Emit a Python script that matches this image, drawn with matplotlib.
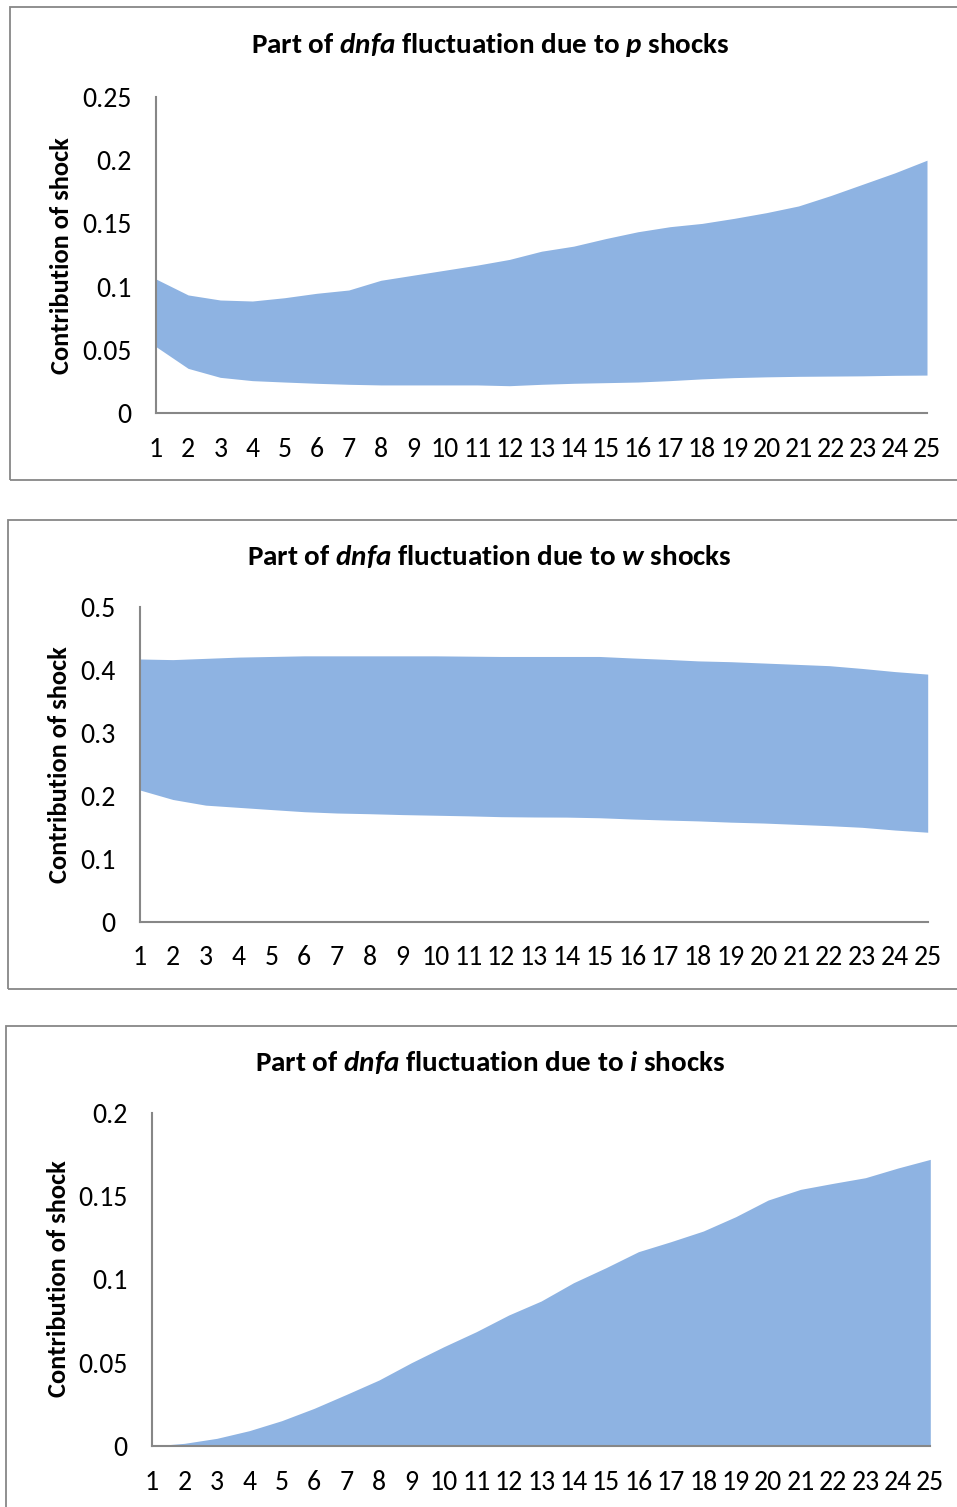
import numpy as np
import matplotlib
matplotlib.use('Agg')
import matplotlib.pyplot as plt
from matplotlib.patches import Rectangle

plt.rcParams['font.family'] = ['Carlito', 'DejaVu Sans']
plt.rcParams['mathtext.fontset'] = 'custom'
plt.rcParams['mathtext.it'] = 'Carlito:italic:bold'
plt.rcParams['mathtext.rm'] = 'Carlito:bold'

# horizon 1..25
periods = list(range(1, 26))

# p shocks: lower / upper bound of the band
p_lower = [0.0525, 0.0353, 0.0282, 0.0256, 0.0245, 0.0235, 0.0227, 0.0222, 0.0222, 0.0222,
           0.0222, 0.0216, 0.0227, 0.0235, 0.0240, 0.0245, 0.0256, 0.0270, 0.0280, 0.0286,
           0.0290, 0.0292, 0.0294, 0.0298, 0.0300]
p_upper = [0.1060, 0.0934, 0.0894, 0.0886, 0.0912, 0.0947, 0.0973, 0.1050, 0.1090, 0.1130,
           0.1170, 0.1215, 0.1280, 0.1320, 0.1380, 0.1434, 0.1474, 0.1500, 0.1540, 0.1585,
           0.1638, 0.1720, 0.1810, 0.1900, 0.2000]

# w shocks
w_lower = [0.209, 0.194, 0.185, 0.1815, 0.178, 0.1746, 0.1725, 0.1714, 0.170, 0.169,
           0.168, 0.1667, 0.1662, 0.166, 0.165, 0.163, 0.1614, 0.160, 0.158, 0.1566,
           0.1545, 0.1524, 0.1498, 0.1455, 0.142]
w_upper = [0.417, 0.416, 0.418, 0.420, 0.421, 0.422, 0.422, 0.422, 0.422, 0.422,
           0.4215, 0.421, 0.421, 0.421, 0.421, 0.4186, 0.4165, 0.414, 0.4127, 0.4106,
           0.4085, 0.4064, 0.402, 0.397, 0.393]

# i shocks (area from zero)
i_vals = [0.0, 0.0016, 0.0046, 0.0092, 0.0152, 0.0226, 0.031, 0.0396, 0.050, 0.0596,
          0.0686, 0.0786, 0.087, 0.098, 0.107, 0.1166, 0.1226, 0.129, 0.1376, 0.1476,
          0.154, 0.1576, 0.161, 0.1668, 0.172]

p_yticks = [0, 0.05, 0.1, 0.15, 0.2, 0.25]
p_ylabels = ['0', '0.05', '0.1', '0.15', '0.2', '0.25']
w_yticks = [0, 0.1, 0.2, 0.3, 0.4, 0.5]
w_ylabels = ['0', '0.1', '0.2', '0.3', '0.4', '0.5']
i_yticks = [0, 0.05, 0.1, 0.15, 0.2]
i_ylabels = ['0', '0.05', '0.1', '0.15', '0.2']

FILL = '#8EB3E2'
GRAY = '#878787'
W, H = 957, 1507

fig = plt.figure(figsize=(W / 100, H / 100), dpi=100)


def px_axes(left, right, top, bottom):
    return fig.add_axes([left / W, 1 - bottom / H, (right - left) / W, (bottom - top) / H])


def frame(x0, y0, x1, y1):
    fig.patches.append(Rectangle((x0 / W, 1 - y1 / H), (x1 - x0) / W, (y1 - y0) / H,
                                 transform=fig.transFigure, fill=False,
                                 edgecolor=GRAY, linewidth=1.3))


def style(ax, yticks, ylabels, top):
    ax.set_xlim(1, 25)
    ax.set_ylim(0, top)
    ax.set_xticks(periods)
    ax.set_xticklabels([str(p) for p in periods])
    ax.set_yticks(yticks)
    ax.set_yticklabels(ylabels)
    for s in ['top', 'right']:
        ax.spines[s].set_visible(False)
    for s in ['left', 'bottom']:
        ax.spines[s].set_color(GRAY)
        ax.spines[s].set_linewidth(1.5)
    ax.tick_params(axis='both', length=0, labelsize=20)
    ax.tick_params(axis='y', pad=17.5)
    ax.tick_params(axis='x', pad=17)
    ax.set_ylabel('Contribution of shock', fontsize=19, fontweight='bold')


frame(10, 7, 970, 480)
frame(8, 520, 970, 989)
frame(6, 1026, 970, 1520)

ax1 = px_axes(156, 927, 97, 413)
ax1.fill_between(periods, p_lower, p_upper, color=FILL, linewidth=0)
style(ax1, p_yticks, p_ylabels, 0.25)
ax1.yaxis.set_label_coords((73 - 156) / (927 - 156), (413 - 256) / (413 - 97))
fig.text(490 / W, 1 - 45 / H, r'Part of $dnfa$ fluctuation due to $p$ shocks',
         ha='center', va='center', fontsize=21, fontweight='bold')

ax2 = px_axes(140, 927.7, 606.7, 921.7)
ax2.fill_between(periods, w_lower, w_upper, color=FILL, linewidth=0)
style(ax2, w_yticks, w_ylabels, 0.5)
ax2.yaxis.set_label_coords((71 - 140) / (927.7 - 140), (921.7 - 765) / (921.7 - 606.7))
fig.text(489 / W, 1 - 557 / H, r'Part of $dnfa$ fluctuation due to $w$ shocks',
         ha='center', va='center', fontsize=21, fontweight='bold')

ax3 = px_axes(152, 930.3, 1112.7, 1446)
ax3.fill_between(periods, 0, i_vals, color=FILL, linewidth=0)
style(ax3, i_yticks, i_ylabels, 0.2)
ax3.yaxis.set_label_coords((70 - 152) / (930.3 - 152), (1446 - 1279) / (1446 - 1112.7))
fig.text(490 / W, 1 - 1063 / H, r'Part of $dnfa$ fluctuation due to $i$ shocks',
         ha='center', va='center', fontsize=21, fontweight='bold')

fig.savefig('out.png', dpi=100)
